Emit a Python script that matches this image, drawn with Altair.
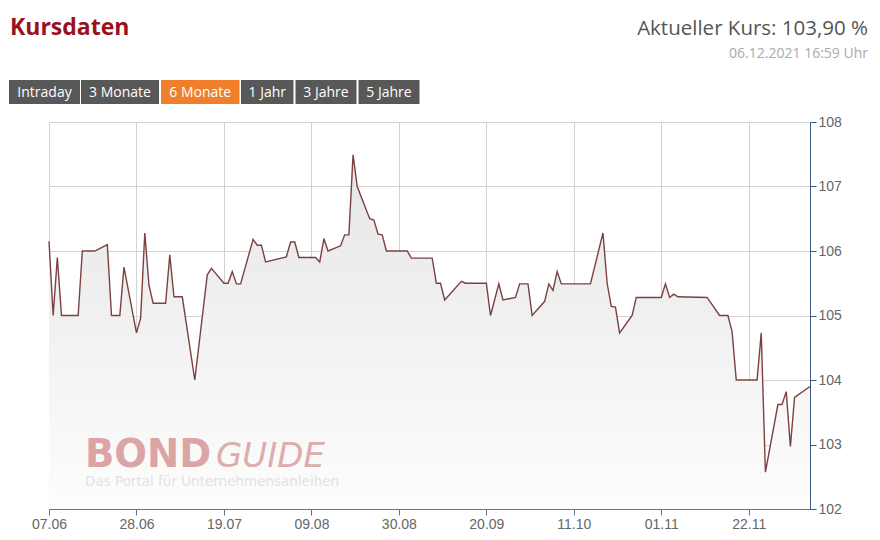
import altair as alt
import pandas as pd

# ---- data ----
dates = [
    "2021-06-07", "2021-06-08", "2021-06-09", "2021-06-10", "2021-06-14", "2021-06-15",
    "2021-06-18", "2021-06-21", "2021-06-22", "2021-06-24", "2021-06-25", "2021-06-28",
    "2021-06-29", "2021-06-30", "2021-07-01", "2021-07-02", "2021-07-05", "2021-07-06",
    "2021-07-07", "2021-07-09", "2021-07-12", "2021-07-15", "2021-07-16", "2021-07-19",
    "2021-07-20", "2021-07-21", "2021-07-22", "2021-07-23", "2021-07-26", "2021-07-27",
    "2021-07-28", "2021-07-29", "2021-08-03", "2021-08-04", "2021-08-05", "2021-08-06",
    "2021-08-10", "2021-08-11", "2021-08-12", "2021-08-13", "2021-08-16", "2021-08-17",
    "2021-08-18", "2021-08-19", "2021-08-20", "2021-08-23", "2021-08-24", "2021-08-25",
    "2021-08-26", "2021-08-27", "2021-09-01", "2021-09-02", "2021-09-07", "2021-09-08",
    "2021-09-09", "2021-09-10", "2021-09-14", "2021-09-15", "2021-09-20", "2021-09-21",
    "2021-09-23", "2021-09-24", "2021-09-27", "2021-09-28", "2021-09-30", "2021-10-01",
    "2021-10-04", "2021-10-05", "2021-10-06", "2021-10-07", "2021-10-08", "2021-10-15",
    "2021-10-18", "2021-10-19", "2021-10-20", "2021-10-21", "2021-10-22", "2021-10-25",
    "2021-10-26", "2021-11-01", "2021-11-02", "2021-11-03", "2021-11-04", "2021-11-05",
    "2021-11-12", "2021-11-15", "2021-11-17", "2021-11-18", "2021-11-19", "2021-11-24",
    "2021-11-25", "2021-11-26", "2021-11-29", "2021-11-30", "2021-12-01", "2021-12-02",
    "2021-12-03", "2021-12-06 16:59:00",
]
values = [
    106.15, 105.00, 105.90, 105.00, 105.00, 106.00,
    106.00, 106.10, 105.00, 105.00, 105.75, 104.73,
    104.96, 106.28, 105.47, 105.19, 105.19, 105.94,
    105.29, 105.29, 104.00, 105.63, 105.73, 105.50,
    105.50, 105.68, 105.49, 105.49, 106.18, 106.09,
    106.09, 105.83, 105.91, 106.14, 106.14, 105.90,
    105.90, 105.83, 106.19, 106.00, 106.08, 106.25,
    106.25, 107.49, 107.00, 106.50, 106.48, 106.26,
    106.25, 106.00, 106.00, 105.89, 105.89, 105.50,
    105.50, 105.24, 105.53, 105.50, 105.50, 105.00,
    105.49, 105.24, 105.28, 105.49, 105.49, 105.00,
    105.22, 105.49, 105.39, 105.68, 105.49, 105.49,
    106.28, 105.50, 105.14, 105.13, 104.73, 105.00,
    105.28, 105.28, 105.49, 105.28, 105.33, 105.29,
    105.28, 105.00, 105.00, 104.75, 104.00, 104.00,
    104.73, 102.57, 103.62, 103.62, 103.82, 102.97,
    103.73, 103.90,
]
x_tick_dates = [(2021, 6, 7), (2021, 6, 28), (2021, 7, 19), (2021, 8, 9), (2021, 8, 30),
                (2021, 9, 20), (2021, 10, 11), (2021, 11, 1), (2021, 11, 22)]
y_ticks = [102, 103, 104, 105, 106, 107, 108]
buttons = ["Intraday", "3 Monate", "6 Monate", "1 Jahr", "3 Jahre", "5 Jahre"]
active_button = "6 Monate"
title_text = "Kursdaten"
kurs_text = "Aktueller Kurs: 103,90 %"
stamp_text = "06.12.2021 16:59 Uhr"

df = pd.DataFrame({"date": pd.to_datetime(dates, format="mixed"), "kurs": values})

W, H = 761, 387
FONT = "Open Sans"
AXFONT = "Liberation Sans"

x_scale = alt.Scale(domain=[alt.DateTime(year=2021, month=6, date=7),
                            alt.DateTime(year=2021, month=12, date=6, hours=16, minutes=59)])
y_scale = alt.Scale(domain=[102, 108], zero=False, nice=False)

x_axis = alt.Axis(values=[alt.DateTime(year=y, month=m, date=d) for (y, m, d) in x_tick_dates],
                  format="%d.%m", grid=True, gridColor="#d2d2d2", gridWidth=1,
                  domainColor="#5a7595", tickColor="#5a7595", tickSize=6,
                  labelColor="#666666", labelFont=AXFONT, labelFontSize=14,
                  labelPadding=2, labelFlush=False, title=None)
y_axis = alt.Axis(orient="right", values=y_ticks, format="d", grid=True, gridColor="#d2d2d2",
                  domainColor="#3d5a80", tickColor="#3d5a80", tickSize=6,
                  labelColor="#666666", labelFont=AXFONT, labelFontSize=14,
                  labelPadding=2, labelAlign="left", labelBaseline="middle", title=None)

base = alt.Chart(df)
area = base.mark_area(
    color=alt.Gradient(gradient="linear",
                       stops=[alt.GradientStop(color="#e6e6e6", offset=0),
                              alt.GradientStop(color="#fdfdfd", offset=1)],
                       x1=1, x2=1, y1=0, y2=1)
).encode(
    x=alt.X("date:T", scale=x_scale, axis=x_axis),
    y=alt.Y("kurs:Q", scale=y_scale, axis=y_axis),
    y2=alt.datum(102),
)
line = base.mark_line(color="#7d4040", strokeWidth=1.4).encode(
    x=alt.X("date:T", scale=x_scale),
    y=alt.Y("kurs:Q", scale=y_scale),
)

one = pd.DataFrame({"a": [0]})


def txt(text, x, y, size, color, font=FONT, align="left", weight="normal",
        style="normal", baseline="alphabetic"):
    return alt.Chart(one).mark_text(
        align=align, baseline=baseline, font=font, fontSize=size,
        fontWeight=weight, fontStyle=style, color=color
    ).encode(x=alt.value(x), y=alt.value(y), text=alt.value(text))


# watermark
watermark = [
    txt("BOND", 36, 345, 38.5, "#dba5a5", font="DejaVu Sans", weight="bold"),
    txt("GUIDE", 167, 345, 34, "#ddadad", font="DejaVu Sans", style="italic"),
    txt("Das Portal für Unternehmensanleihen", 36, 364, 13.5, "#e2e2e2", font="DejaVu Sans"),
]

# header
header = [
    txt(title_text, -39, -87, 23, "#9b1020", weight="bold"),
    txt(kurs_text, 819, -87, 20.5, "#555555", align="right"),
    txt(stamp_text, 819, -64, 14, "#aaaaaa", align="right"),
]

# range buttons
btn_edges = [(-40, 31), (32, 110), (112, 190.5), (192, 244.5), (246.5, 307.5), (309.5, 370.5)]
btn_layers = []
for label, (x0, x1) in zip(buttons, btn_edges):
    col = "#f07f2c" if label == active_button else "#585858"
    btn_layers.append(
        alt.Chart(one).mark_rect(color=col).encode(
            x=alt.value(x0), x2=alt.value(x1), y=alt.value(-42), y2=alt.value(-18))
    )
    btn_layers.append(txt(label, (x0 + x1) / 2, -29.5, 14, "#ffffff",
                          align="center", baseline="middle"))

chart = alt.layer(area, *watermark, line, *header, *btn_layers).properties(
    width=W, height=H,
    autosize=alt.AutoSizeParams(type="none"),
    padding={"left": 41, "top": 114, "right": 60, "bottom": 25},
    background="white",
).configure_view(strokeWidth=0)

chart.save("out.html", embed_options={"renderer": "svg", "actions": False})
